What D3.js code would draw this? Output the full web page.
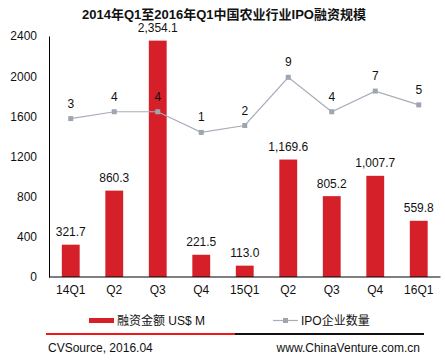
<!DOCTYPE html>
<html>
<head>
    <meta charset="UTF-8">
    <style>
        body {
            margin: 0;
            background: #fff;
            font-family: "Liberation Sans", Arial, "Noto Sans CJK SC", sans-serif;
        }
        .chart text {
            fill: #111;
        }
    </style>
</head>
<body>
    <svg class="chart" id="chart" width="445" height="363"></svg>

    <script src="https://d3js.org/d3.v7.min.js"></script>
    <script>
        const quarters = ["14Q1", "Q2", "Q3", "Q4", "15Q1", "Q2 ", "Q3 ", "Q4 ", "16Q1"];
        const amounts = [321.7, 860.3, 2354.1, 221.5, 113.0, 1169.6, 805.2, 1007.7, 559.8];
        const ipoCounts = [3, 4, 4, 1, 2, 9, 4, 7, 5];
        const yTicks = [0, 400, 800, 1200, 1600, 2000, 2400];

        const svg = d3.select("#chart");
        const plotLeft = 49, plotRight = 440.5, plotTop = 36, plotBottom = 277;

        const x = d3.scaleBand()
            .domain(quarters)
            .range([plotLeft, plotRight])
            .paddingInner(0.59)
            .paddingOuter(0.295);

        const y = d3.scaleLinear().domain([0, 2400]).range([plotBottom, plotTop]);
        // secondary axis is hidden
        const y2 = d3.scaleLinear().domain([-20, 15]).range([plotBottom, plotTop]);

        // title
        svg.append("text")
            .attr("x", 224)
            .attr("y", 19)
            .attr("text-anchor", "middle")
            .style("font-size", "13px")
            .style("font-weight", "bold")
            .text("2014年Q1至2016年Q1中国农业行业IPO融资规模");

        // y axis
        const yAxis = svg.append("g")
            .attr("transform", `translate(${plotLeft},0)`)
            .call(d3.axisLeft(y).tickValues(yTicks).tickSize(0).tickPadding(12).tickFormat(d3.format("d")));
        yAxis.select(".domain").attr("stroke", "#000");
        yAxis.selectAll("text").style("font-size", "12px").style("font-family", "Liberation Sans, Arial");

        // bars
        svg.append("g").selectAll("rect")
            .data(amounts)
            .join("rect")
            .attr("x", (d, i) => x(quarters[i]))
            .attr("width", x.bandwidth())
            .attr("y", d => y(d))
            .attr("height", d => plotBottom - y(d))
            .attr("fill", "#d5202a");

        svg.append("g").selectAll("text")
            .data(amounts)
            .join("text")
            .attr("x", (d, i) => x(quarters[i]) + x.bandwidth() / 2)
            .attr("y", d => y(d) - 8.5)
            .attr("text-anchor", "middle")
            .style("font-size", "12px")
            .text(d => d3.format(",.1f")(d));

        // x axis
        const xAxis = svg.append("g")
            .attr("transform", `translate(0,${plotBottom})`)
            .call(d3.axisBottom(x).tickSize(0).tickPadding(8).tickFormat(d => d.trim()));
        xAxis.select(".domain").attr("stroke", "#000").attr("d", `M${plotLeft},0H${plotRight}`);
        xAxis.selectAll("text").style("font-size", "12px").style("font-family", "Liberation Sans, Arial");

        // line
        const cx = (d, i) => x(quarters[i]) + x.bandwidth() / 2;
        const line = d3.line().x(cx).y(d => y2(d));
        svg.append("path")
            .datum(ipoCounts)
            .attr("d", line)
            .attr("fill", "none")
            .attr("stroke", "#a7adb9")
            .attr("stroke-width", 1.2);

        svg.append("g").selectAll("rect")
            .data(ipoCounts)
            .join("rect")
            .attr("x", (d, i) => cx(d, i) - 2.5)
            .attr("y", d => y2(d) - 2.5)
            .attr("width", 5)
            .attr("height", 5)
            .attr("fill", "#9ea4b0");

        svg.append("g").selectAll("text")
            .data(ipoCounts)
            .join("text")
            .attr("x", cx)
            .attr("y", d => y2(d) - 11)
            .attr("text-anchor", "middle")
            .style("font-size", "12px")
            .text(d => d);

        // legend
        const legend = svg.append("g");
        legend.append("rect")
            .attr("x", 89).attr("y", 318)
            .attr("width", 25).attr("height", 5)
            .attr("fill", "#d5202a");
        legend.append("text")
            .attr("x", 117).attr("y", 325)
            .style("font-size", "12px")
            .text("融资金额 US$ M");
        legend.append("line")
            .attr("x1", 273).attr("x2", 298)
            .attr("y1", 320.5).attr("y2", 320.5)
            .attr("stroke", "#a7adb9").attr("stroke-width", 1.2);
        legend.append("rect")
            .attr("x", 283).attr("y", 318)
            .attr("width", 5).attr("height", 5)
            .attr("fill", "#9ea4b0");
        legend.append("text")
            .attr("x", 301).attr("y", 325)
            .style("font-size", "12px")
            .text("IPO企业数量");

        // footer
        svg.append("line")
            .attr("x1", 46).attr("x2", 235)
            .attr("y1", 334).attr("y2", 334)
            .attr("stroke", "#f01818").attr("stroke-width", 2);
        svg.append("line")
            .attr("x1", 235).attr("x2", 424)
            .attr("y1", 334).attr("y2", 334)
            .attr("stroke", "#111").attr("stroke-width", 2);

        svg.append("text")
            .attr("x", 48).attr("y", 352)
            .style("font-size", "12px")
            .text("CVSource, 2016.04");
        svg.append("text")
            .attr("x", 420).attr("y", 352)
            .attr("text-anchor", "end")
            .style("font-size", "12px")
            .text("www.ChinaVenture.com.cn");
    </script>
</body>
</html>
